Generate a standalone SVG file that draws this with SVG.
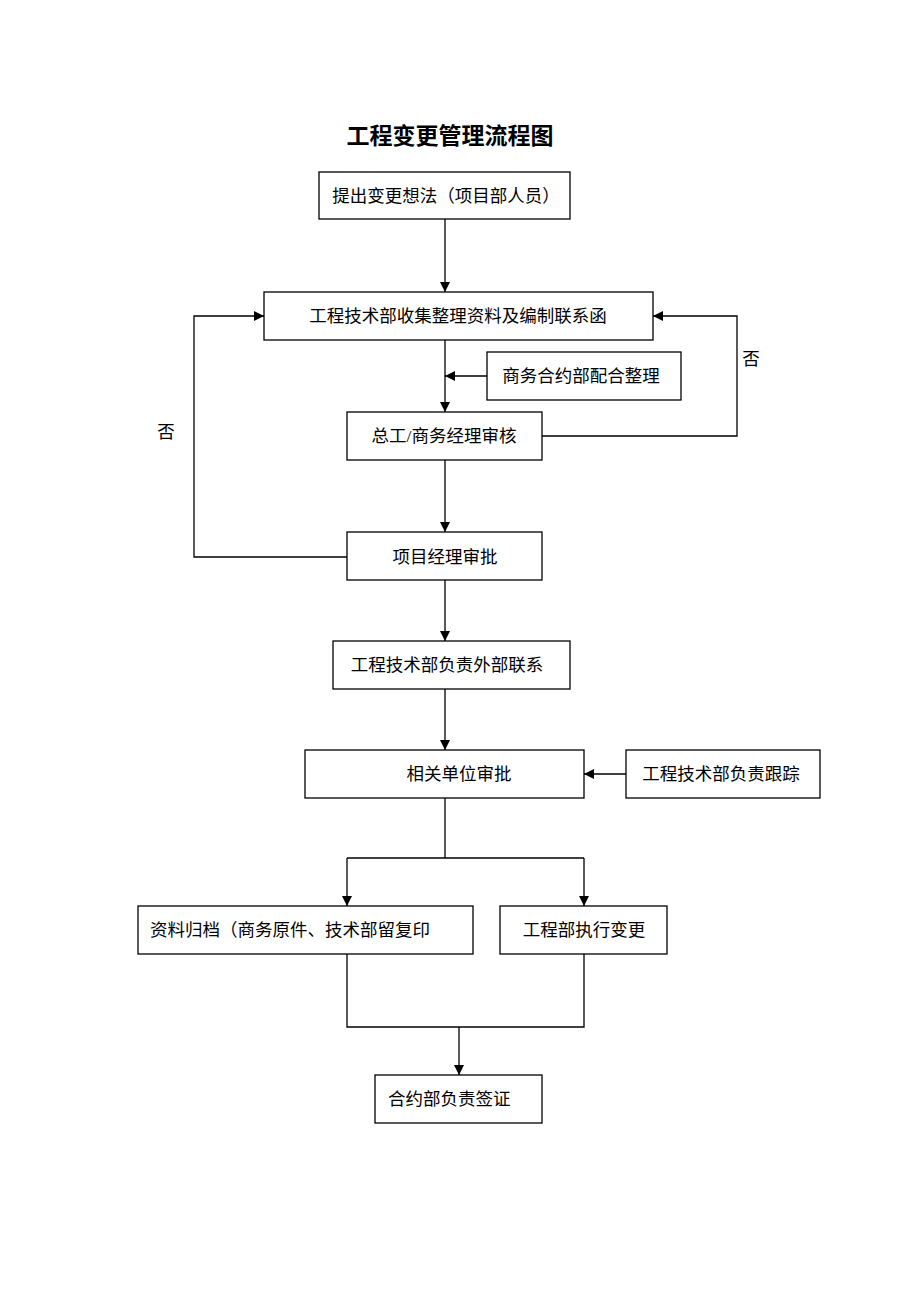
<svg xmlns="http://www.w3.org/2000/svg" width="920" height="1302" viewBox="0 0 920 1302">
<style>
.box{fill:#fff;stroke:#000;stroke-width:1.3}
.t{font-family:"Liberation Serif","Noto Sans CJK SC",serif;font-size:17.5px;fill:#000}
.c{fill:none;stroke:#000;stroke-width:1.3}
.title{font-family:"Liberation Serif","Noto Sans CJK SC",serif;font-size:23px;font-weight:bold;fill:#000}
</style>
<defs>
<marker id="ah" viewBox="0 0 10 10" refX="10" refY="5" markerWidth="10" markerHeight="10" markerUnits="userSpaceOnUse" orient="auto">
<path d="M0,0 L10,5 L0,10 Z" fill="#000"/>
</marker>
</defs>
<rect width="920" height="1302" fill="#fff"/>
<text class="title" x="450" y="144" text-anchor="middle">工程变更管理流程图</text>
<g id="connectors">
<path class="c" d="M445,219 V292" marker-end="url(#ah)"/>
<path class="c" d="M445,340 V412" marker-end="url(#ah)"/>
<path class="c" d="M487,376 H445" marker-end="url(#ah)"/>
<path class="c" d="M542,436 H737 V316 H653" marker-end="url(#ah)"/>
<path class="c" d="M445,460 V532" marker-end="url(#ah)"/>
<path class="c" d="M347,557 H194 V316 H264" marker-end="url(#ah)"/>
<path class="c" d="M445,580 V641" marker-end="url(#ah)"/>
<path class="c" d="M445,689 V750" marker-end="url(#ah)"/>
<path class="c" d="M626,774 H584" marker-end="url(#ah)"/>
<path class="c" d="M445,798 V858"/>
<path class="c" d="M347,858 H584"/>
<path class="c" d="M347,858 V906" marker-end="url(#ah)"/>
<path class="c" d="M584,858 V906" marker-end="url(#ah)"/>
<path class="c" d="M347,954 V1027 H584 V954"/>
<path class="c" d="M459,1027 V1075" marker-end="url(#ah)"/>
<text class="t" x="751" y="365" text-anchor="middle">否</text>
<text class="t" x="166" y="438" text-anchor="middle">否</text>
</g>
<g id="n1"><rect class="box" x="319" y="172" width="251" height="47"/><text class="t" x="446" y="202" text-anchor="middle">提出变更想法（项目部人员）</text></g>
<g id="n2"><rect class="box" x="264" y="292" width="389" height="48"/><text class="t" x="458" y="322" text-anchor="middle">工程技术部收集整理资料及编制联系函</text></g>
<g id="n3"><rect class="box" x="487" y="352" width="194" height="48"/><text class="t" x="581" y="382" text-anchor="middle">商务合约部配合整理</text></g>
<g id="n4"><rect class="box" x="347" y="412" width="195" height="48"/><text class="t" x="444" y="442" text-anchor="middle">总工/商务经理审核</text></g>
<g id="n5"><rect class="box" x="347" y="532" width="195" height="48"/><text class="t" x="445" y="563" text-anchor="middle">项目经理审批</text></g>
<g id="n6"><rect class="box" x="333" y="641" width="237" height="48"/><text class="t" x="447" y="671" text-anchor="middle">工程技术部负责外部联系</text></g>
<g id="n7"><rect class="box" x="305" y="750" width="279" height="48"/><text class="t" x="459" y="780" text-anchor="middle">相关单位审批</text></g>
<g id="n8"><rect class="box" x="626" y="750" width="194" height="48"/><text class="t" x="721" y="780" text-anchor="middle">工程技术部负责跟踪</text></g>
<g id="n9"><rect class="box" x="138" y="906" width="335" height="48"/><text class="t" x="150" y="936">资料归档（商务原件、技术部留复印</text></g>
<g id="n10"><rect class="box" x="500" y="906" width="167" height="48"/><text class="t" x="584" y="936" text-anchor="middle">工程部执行变更</text></g>
<g id="n11"><rect class="box" x="375" y="1075" width="167" height="48"/><text class="t" x="388" y="1105">合约部负责签证</text></g>
</svg>
